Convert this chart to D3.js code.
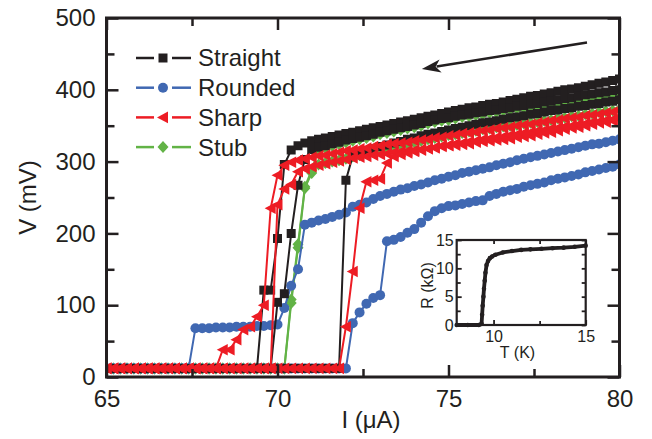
<!DOCTYPE html>
<html>
<head>
<meta charset="utf-8">
<script src="https://cdn.jsdelivr.net/npm/d3@7"></script>
<style>
  body { margin: 0; background: #fff; }
  text { font-family: "Liberation Sans", Arial, sans-serif; fill: #231f20; }
</style>
</head>
<body>
<div id="chart"></div>
<script>
// sweep current (uA), shared by every curve
const current = [
  65.0, 65.2, 65.4, 65.6, 65.8, 66.0, 66.2, 66.4, 66.6, 66.8,
  67.0, 67.2, 67.4, 67.6, 67.8, 68.0, 68.2, 68.4, 68.6, 68.8,
  69.0, 69.2, 69.4, 69.6, 69.8, 70.0, 70.2, 70.4, 70.6, 70.8,
  71.0, 71.2, 71.4, 71.6, 71.8, 72.0, 72.2, 72.4, 72.6, 72.8,
  73.0, 73.2, 73.4, 73.6, 73.8, 74.0, 74.2, 74.4, 74.6, 74.8,
  75.0, 75.2, 75.4, 75.6, 75.8, 76.0, 76.2, 76.4, 76.6, 76.8,
  77.0, 77.2, 77.4, 77.6, 77.8, 78.0, 78.2, 78.4, 78.6, 78.8,
  79.0, 79.2, 79.4, 79.6, 79.8, 80.0,
];

// voltage (mV) per sweep
const straightA = [
  12, 12, 12, 12, 12, 12, 12, 12, 12, 12,
  12, 12, 12, 12, 12, 12, 12, 12, 12, 12,
  12, 12, 12, 121, 121, 193, 296, 316, 322, 326,
  329, 331, 333, 335, 337, 339, 341, 343, 345, 347,
  349, 351, 353, 355, 357, 359, 361, 363, 365, 367,
  369, 371, 373, 375, 376, 378, 380, 381, 383, 385,
  387, 389, 391, 392, 394, 396, 398, 400, 401, 403,
  405, 407, 409, 411, 413, 415,
];
const straightB = [
  12, 12, 12, 12, 12, 12, 12, 12, 12, 12,
  12, 12, 12, 12, 12, 12, 12, 12, 12, 12,
  12, 12, 12, 12, 12, 104, 116, 200, 267, 303,
  317, 320, 322, 325, 327, 330, 332, 334, 336, 338,
  341, 343, 345, 347, 349, 351, 353, 356, 358, 360,
  361, 363, 365, 366, 368, 369, 371, 372, 374, 375,
  377, 378, 380, 381, 383, 384, 386, 388, 389, 391,
  393, 394, 396, 397, 399, 400,
];
const straightC = [
  12, 12, 12, 12, 12, 12, 12, 12, 12, 12,
  12, 12, 12, 12, 12, 12, 12, 12, 12, 12,
  12, 12, 12, 12, 12, 12, 12, 12, 12, 12,
  12, 12, 12, 12, 12, 274, 308, 312, 315, 318,
  321, 323, 326, 328, 331, 333, 336, 338, 340, 342,
  344, 346, 348, 350, 352, 354, 355, 357, 359, 361,
  362, 364, 366, 367, 369, 371, 372, 374, 375, 377,
  378, 380, 381, 383, 384, 386,
];
const roundedA = [
  12, 12, 12, 12, 12, 12, 12, 12, 12, 12,
  12, 12, 12, 68, 68, 68, 69, 69, 69, 70,
  70, 70, 71, 71, 72, 73, 96, 127, 150, 212,
  215, 218, 220, 223, 226, 229, 237, 240, 243, 248,
  252, 255, 258, 261, 263, 266, 268, 271, 274, 276,
  279, 281, 284, 286, 288, 290, 292, 295, 297, 299,
  302, 304, 306, 308, 310, 312, 314, 316, 318, 320,
  322, 324, 325, 327, 329, 331,
];
const roundedB = [
  12, 12, 12, 12, 12, 12, 12, 12, 12, 12,
  12, 12, 12, 12, 12, 12, 12, 12, 12, 12,
  12, 12, 12, 12, 12, 12, 12, 12, 12, 12,
  12, 12, 12, 12, 12, 12, 75, 90, 102, 110,
  114, 189, 191, 195, 201, 206, 215, 224, 231, 235,
  238, 239, 241, 243, 245, 246, 252, 255, 258, 260,
  262, 265, 267, 269, 271, 274, 276, 278, 280, 282,
  285, 287, 289, 291, 293, 296,
];
const sharpA = [
  12, 12, 12, 12, 12, 12, 12, 12, 12, 12,
  12, 12, 12, 12, 12, 12, 12, 38, 38, 52,
  66, 70, 84, 100, 235, 281, 295, 299, 302, 304,
  306, 308, 309, 311, 313, 315, 316, 318, 319, 321,
  322, 324, 325, 326, 327, 329, 330, 331, 333, 334,
  336, 337, 339, 340, 341, 343, 344, 346, 347, 348,
  350, 351, 352, 354, 355, 357, 358, 360, 361, 362,
  364, 365, 366, 368, 369, 371,
];
const sharpB = [
  12, 12, 12, 12, 12, 12, 12, 12, 12, 12,
  12, 12, 12, 12, 12, 12, 12, 12, 12, 12,
  12, 12, 12, 12, 12, 240, 262, 268, 286, 290,
  293, 295, 297, 299, 301, 303, 305, 306, 307, 309,
  310, 311, 313, 314, 315, 316, 317, 318, 319, 321,
  322, 323, 324, 325, 327, 328, 329, 330, 331, 332,
  334, 335, 336, 338, 340, 341, 343, 345, 347, 348,
  350, 352, 354, 355, 357, 359,
];
const sharpC = [
  12, 12, 12, 12, 12, 12, 12, 12, 12, 12,
  12, 12, 12, 12, 12, 12, 12, 12, 12, 12,
  12, 12, 12, 12, 12, 12, 12, 12, 12, 12,
  12, 12, 12, 12, 12, 70, 147, 235, 272, 274,
  276, 298, 307, 310, 312, 314, 316, 318, 320, 322,
  323, 325, 326, 328, 329, 331, 332, 334, 335, 337,
  338, 340, 341, 343, 344, 346, 347, 349, 350, 352,
  353, 355, 356, 358, 359, 361,
];
const stubA = [
  12, 12, 12, 12, 12, 12, 12, 12, 12, 12,
  12, 12, 12, 12, 12, 12, 12, 12, 12, 12,
  12, 12, 12, 12, 12, 12, 12, 103, 180, 263,
  284, 296, 298, 300, 302, 304, 307, 309, 312, 314,
  317, 319, 321, 323, 325, 327, 329, 331, 333, 335,
  337, 338, 340, 342, 343, 345, 346, 348, 349, 350,
  351, 353, 354, 355, 357, 358, 360, 361, 363, 364,
  366, 367, 369, 370, 371, 373,
];
const stubB = [
  12, 12, 12, 12, 12, 12, 12, 12, 12, 12,
  12, 12, 12, 12, 12, 12, 12, 12, 12, 12,
  12, 12, 12, 12, 12, 12, 12, 108, 185, 265,
  288, 317, 319, 322, 324, 327, 329, 331, 333, 335,
  338, 340, 342, 344, 346, 348, 350, 353, 355, 357,
  358, 360, 362, 363, 365, 366, 368, 369, 371, 372,
  374, 375, 376, 377, 379, 380, 381, 383, 384, 386,
  387, 389, 390, 391, 393, 394,
];

// inset: resistance (kOhm) vs temperature (K)
const insetT = [8.0, 8.6, 9.2, 9.35, 9.38, 9.41, 9.45, 9.48, 9.52, 9.56, 9.62, 9.7, 9.8, 9.92, 10.1, 10.5, 11.0, 11.5, 12.0, 12.6, 13.2, 13.8, 14.4, 15.0];
const insetR = [0, 0, 0, 0.2, 1.8, 3.4, 5.0, 6.4, 7.8, 9.2, 10.6, 11.3, 11.8, 12.1, 12.4, 12.8, 13.05, 13.25, 13.35, 13.45, 13.55, 13.65, 13.8, 14.0];

const seriesNames = ["Straight", "Rounded", "Sharp", "Stub"];
const xTicks = [65, 70, 75, 80];
const xMinorTicks = [67.5, 72.5, 77.5];
const yTicks = [0, 100, 200, 300, 400, 500];
const yMinorTicks = [50, 150, 250, 350, 450];
const insetXTicks = [10, 15];
const insetXMinor = [12.5];
const insetYTicks = [0, 5, 10, 15];
const insetYMinor = [2.5, 7.5, 12.5];
// sweep direction arrow, [I, V]
const arrowFrom = [79.05, 466];
const arrowTo = [74.22, 429];

const attrs = {
  width: 652,
  height: 439,
  margin: { top: 18, right: 32.5, bottom: 62, left: 106.5 },
  fontSize: 24,
  ink: "#231f20",
};

const markers = {
  square: "M-4.5,-4.5H4.5V4.5H-4.5Z",
  circle: d3.symbol(d3.symbolCircle, Math.PI * 5 * 5)(),
  triangle: "M-6,0L5,-5.8L5,5.8Z",
  diamond: "M0,-6L5.5,0L0,6L-5.5,0Z",
};

const series = [
  { name: seriesNames[0], color: "#231f20", marker: markers.square, curves: [straightA, straightB, straightC] },
  { name: seriesNames[1], color: "#4068b2", marker: markers.circle, curves: [roundedA, roundedB] },
  { name: seriesNames[2], color: "#ed1c24", marker: markers.triangle, curves: [sharpA, sharpB, sharpC] },
  { name: seriesNames[3], color: "#62b346", marker: markers.diamond, curves: [stubA, stubB] },
];

// stacking seen in the figure: stub under, sharp on top
const drawOrder = [3, 1, 0, 2];

let svg, chart, chartWidth, chartHeight, xScale, yScale;

function main() {
  chartWidth = attrs.width - attrs.margin.left - attrs.margin.right;
  chartHeight = attrs.height - attrs.margin.top - attrs.margin.bottom;

  xScale = d3.scaleLinear([65, 80], [0, chartWidth]);
  yScale = d3.scaleLinear([0, 500], [chartHeight, 0]);

  svg = d3.select("#chart").append("svg")
    .attr("width", attrs.width)
    .attr("height", attrs.height);

  chart = svg.append("g")
    .attr("transform", `translate(${attrs.margin.left},${attrs.margin.top})`);

  chart.append("clipPath").attr("id", "plot-clip")
    .append("rect")
    .attr("width", chartWidth)
    .attr("height", chartHeight);

  drawSeries();
  drawAxes();
  drawArrow();
  drawLegend();
  drawInset();
}

function drawSeries() {
  const group = chart.append("g").attr("clip-path", "url(#plot-clip)");
  const line = d3.line()
    .x((d, i) => xScale(current[i]))
    .y((d) => yScale(d));

  drawOrder.forEach((k) => {
    const s = series[k];
    const g = group.append("g").attr("class", "series");
    s.curves.forEach((values) => {
      g.append("path")
        .attr("d", line(values))
        .attr("fill", "none")
        .attr("stroke", s.color)
        .attr("stroke-width", 2);
    });
    s.curves.forEach((values) => {
      g.selectAll(null)
        .data(values)
        .join("path")
        .attr("d", s.marker)
        .attr("fill", s.color)
        .attr("transform", (d, i) => `translate(${xScale(current[i])},${yScale(d)})`);
    });
  });
}

function styleAxis(g, size) {
  g.select(".domain").remove();
  g.selectAll(".tick line").attr("stroke", attrs.ink).attr("stroke-width", 2.5);
  g.selectAll(".tick text")
    .attr("fill", attrs.ink)
    .style("font-size", size + "px")
    .style("font-family", '"Liberation Sans", Arial, sans-serif');
}

function addAxis(parent, axis, transform, size) {
  parent.append("g")
    .attr("transform", transform)
    .call(axis)
    .call((g) => styleAxis(g, size));
}

function drawAxes() {
  const f = attrs.fontSize;
  const h = `translate(0,${chartHeight})`;
  const r = `translate(${chartWidth},0)`;

  addAxis(chart, d3.axisBottom(xScale).tickValues(xTicks).tickSizeInner(-12).tickSizeOuter(0).tickPadding(13).tickFormat(d3.format("d")), h, f);
  addAxis(chart, d3.axisBottom(xScale).tickValues(xMinorTicks).tickSizeInner(-8).tickSizeOuter(0).tickFormat(""), h, f);
  addAxis(chart, d3.axisTop(xScale).tickValues(xTicks).tickSizeInner(-12).tickSizeOuter(0).tickFormat(""), "", f);
  addAxis(chart, d3.axisTop(xScale).tickValues(xMinorTicks).tickSizeInner(-8).tickSizeOuter(0).tickFormat(""), "", f);

  addAxis(chart, d3.axisLeft(yScale).tickValues(yTicks).tickSizeInner(-12).tickSizeOuter(0).tickPadding(11).tickFormat(d3.format("d")), "", f);
  addAxis(chart, d3.axisLeft(yScale).tickValues(yMinorTicks).tickSizeInner(-8).tickSizeOuter(0).tickFormat(""), "", f);
  addAxis(chart, d3.axisRight(yScale).tickValues(yTicks).tickSizeInner(-12).tickSizeOuter(0).tickFormat(""), r, f);
  addAxis(chart, d3.axisRight(yScale).tickValues(yMinorTicks).tickSizeInner(-8).tickSizeOuter(0).tickFormat(""), r, f);

  chart.append("rect")
    .attr("width", chartWidth)
    .attr("height", chartHeight)
    .attr("fill", "none")
    .attr("stroke", attrs.ink)
    .attr("stroke-width", 3);

  chart.append("text")
    .attr("x", 264.5)
    .attr("y", 410)
    .attr("text-anchor", "middle")
    .style("font-size", f + "px")
    .text("I (\u03bcA)");

  chart.append("text")
    .attr("transform", `translate(-71,${chartHeight / 2}) rotate(-90)`)
    .attr("text-anchor", "middle")
    .style("font-size", f + "px")
    .text("V (mV)");
}

function drawArrow() {
  const x0 = xScale(arrowFrom[0]), y0 = yScale(arrowFrom[1]);
  const x1 = xScale(arrowTo[0]), y1 = yScale(arrowTo[1]);
  const a = Math.atan2(y1 - y0, x1 - x0);
  const len = 19, half = 6.5;
  const bx = x1 - len * Math.cos(a), by = y1 - len * Math.sin(a);

  chart.append("line")
    .attr("x1", x0).attr("y1", y0)
    .attr("x2", bx + 4 * Math.cos(a)).attr("y2", by + 4 * Math.sin(a))
    .attr("stroke", attrs.ink)
    .attr("stroke-width", 2.5);

  chart.append("path")
    .attr("d", `M${x1},${y1}L${bx - half * Math.sin(a)},${by + half * Math.cos(a)}L${bx + 5 * Math.cos(a)},${by + 5 * Math.sin(a)}L${bx + half * Math.sin(a)},${by - half * Math.cos(a)}Z`)
    .attr("fill", attrs.ink);
}

function drawLegend() {
  const legend = svg.append("g").attr("transform", "translate(136,58)");
  series.forEach((s, i) => {
    const row = legend.append("g").attr("transform", `translate(0,${i * 29.7})`);
    [[0, 18], [36, 55]].forEach(([a, b]) => {
      row.append("line")
        .attr("x1", a).attr("x2", b)
        .attr("stroke", s.color)
        .attr("stroke-width", 2.5);
    });
    row.append("path")
      .attr("d", s.marker)
      .attr("fill", s.color)
      .attr("transform", "translate(27,0)");
    row.append("text")
      .attr("x", 62)
      .attr("dy", "0.35em")
      .style("font-size", attrs.fontSize + "px")
      .text(s.name);
  });
}

function drawInset() {
  const w = 129, h = 85;
  const fs = 16;
  const inset = chart.append("g").attr("transform", `translate(350.2,222)`);
  const ix = d3.scaleLinear([8, 15], [0, w]);
  const iy = d3.scaleLinear([0, 15], [h, 0]);

  inset.append("rect").attr("width", w).attr("height", h).attr("fill", "#fff");

  inset.append("path")
    .attr("d", d3.line().x((d, i) => ix(insetT[i])).y((d) => iy(d))(insetR))
    .attr("fill", "none")
    .attr("stroke", attrs.ink)
    .attr("stroke-width", 3.8)
    .attr("stroke-linejoin", "round");

  inset.selectAll(null)
    .data(insetR)
    .join("circle")
    .attr("cx", (d, i) => ix(insetT[i]))
    .attr("cy", (d) => iy(d))
    .attr("r", 2.3)
    .attr("fill", attrs.ink);

  const ih = `translate(0,${h})`;
  const ir = `translate(${w},0)`;
  const fmt = d3.format("d");
  addAxis(inset, d3.axisBottom(ix).tickValues(insetXTicks).tickSizeInner(-5).tickSizeOuter(0).tickPadding(6).tickFormat(fmt), ih, fs);
  addAxis(inset, d3.axisBottom(ix).tickValues(insetXMinor).tickSizeInner(-4).tickSizeOuter(0).tickFormat(""), ih, fs);
  addAxis(inset, d3.axisTop(ix).tickValues(insetXTicks.concat(insetXMinor)).tickSizeInner(-4).tickSizeOuter(0).tickFormat(""), "", fs);
  addAxis(inset, d3.axisLeft(iy).tickValues(insetYTicks).tickSizeInner(-5).tickSizeOuter(0).tickPadding(3).tickFormat(fmt), "", fs);
  addAxis(inset, d3.axisLeft(iy).tickValues(insetYMinor).tickSizeInner(-4).tickSizeOuter(0).tickFormat(""), "", fs);
  addAxis(inset, d3.axisRight(iy).tickValues(insetYTicks.concat(insetYMinor)).tickSizeInner(-4).tickSizeOuter(0).tickFormat(""), ir, fs);
  inset.selectAll(".tick line").attr("stroke-width", 1.8);

  inset.append("rect")
    .attr("width", w).attr("height", h)
    .attr("fill", "none")
    .attr("stroke", attrs.ink)
    .attr("stroke-width", 2.2);

  inset.append("text")
    .attr("x", ix(11.3))
    .attr("y", h + 33)
    .attr("text-anchor", "middle")
    .style("font-size", fs + "px")
    .text("T (K)");

  inset.append("text")
    .attr("transform", `translate(-24,${h / 2 + 3}) rotate(-90)`)
    .attr("text-anchor", "middle")
    .style("font-size", fs + "px")
    .text("R (k\u03a9)");
}

main();
</script>
</body>
</html>
